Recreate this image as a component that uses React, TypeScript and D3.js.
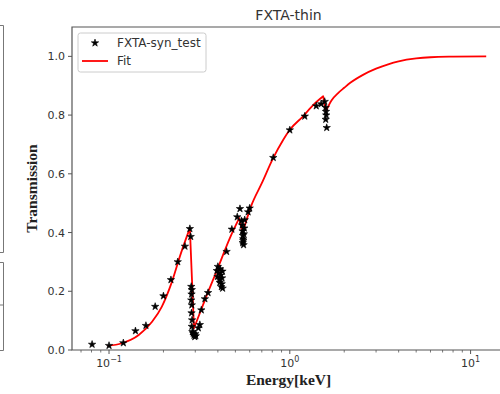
import React from "react";
import * as d3 from "d3";

const dataE = [
  0.0806, 0.1, 0.12, 0.14, 0.16, 0.18, 0.2, 0.22, 0.24, 0.263, 0.28, 0.283,
  0.285, 0.287, 0.286, 0.285, 0.287, 0.286, 0.288, 0.287, 0.289, 0.292, 0.295, 0.298, 0.3, 0.302,
  0.312, 0.318, 0.324, 0.339, 0.353,
  0.395, 0.398, 0.4, 0.405, 0.408, 0.41, 0.412, 0.415, 0.418, 0.42, 0.422, 0.425, 0.424,
  0.447, 0.478, 0.512, 0.53,
  0.54, 0.545, 0.548, 0.55, 0.552, 0.549, 0.555, 0.553, 0.557, 0.56, 0.563, 0.588, 0.6,
  0.81, 1.0, 1.21, 1.4, 1.49, 1.56, 1.58, 1.585, 1.59, 1.58, 1.6,
];
const dataT = [
  0.019, 0.015, 0.024, 0.065, 0.083, 0.148, 0.184, 0.239, 0.3, 0.353, 0.413, 0.386,
  0.216, 0.205, 0.19, 0.17, 0.153, 0.126, 0.102, 0.08, 0.062, 0.057, 0.05, 0.045, 0.055, 0.048,
  0.075, 0.086, 0.136, 0.174, 0.195,
  0.27, 0.25, 0.284, 0.262, 0.24, 0.23, 0.276, 0.255, 0.215, 0.225, 0.245, 0.21, 0.268,
  0.335, 0.411, 0.453, 0.481,
  0.44, 0.425, 0.405, 0.39, 0.378, 0.365, 0.358, 0.372, 0.395, 0.415, 0.443, 0.47, 0.483,
  0.655, 0.749, 0.796, 0.831, 0.838, 0.846, 0.826, 0.812, 0.8, 0.785, 0.757,
];

// fit curve, split into smooth pieces between absorption edges
const fitE1 = [0.098, 0.118, 0.146, 0.173, 0.196, 0.223, 0.25, 0.28];
const fitT1 = [0.014, 0.023, 0.051, 0.096, 0.148, 0.233, 0.33, 0.415];
const fitE2 = [0.295, 0.339, 0.4, 0.466, 0.525];
const fitT2 = [0.074, 0.17, 0.279, 0.381, 0.449];
const fitE3 = [0.548, 0.61, 0.7, 0.81, 0.92, 1.0, 1.18, 1.35, 1.53];
const fitT3 = [0.398, 0.489, 0.568, 0.654, 0.716, 0.75, 0.795, 0.835, 0.864];
const fitE4 = [1.58, 1.7, 1.85, 2.0, 2.15, 2.54, 3.0, 3.5, 4.0, 5.0, 6.0, 8.0, 12.2];
const fitT4 = [0.812, 0.85, 0.875, 0.893, 0.909, 0.937, 0.958, 0.973, 0.983, 0.993, 0.997, 0.999, 1.0];

const yTicks = [0, 0.2, 0.4, 0.6, 0.8, 1.0];
const xMajor = [0.1, 1, 10];
const xMajorExp = ["\u22121", "0", "1"];
const xMinor = [0.07, 0.08, 0.09, 0.2, 0.3, 0.4, 0.5, 0.6, 0.7, 0.8, 0.9, 2, 3, 4, 5, 6, 7, 8, 9];

const title = "FXTA-thin";
const xLabel = "Energy[keV]";
const yLabel = "Transmission";
const seriesNames = ["FXTA-syn_test", "Fit"];

export default function App() {
  const L = 72, R = 505, T = 27, B = 350;
  const x = d3.scaleLog().domain([0.0624, 15.5]).range([L, R]);
  const y = d3.scaleLinear().domain([0, 1.1]).range([B, T]);

  const pieces: [number[], number[]][] = [
    [fitE1, fitT1],
    [fitE2, fitT2],
    [fitE3, fitT3],
    [fitE4, fitT4],
  ];
  const smooth = d3
    .line<[number, number]>()
    .x((d) => x(d[0]))
    .y((d) => y(d[1]))
    .curve(d3.curveMonotoneX);
  let fitPath = "";
  pieces.forEach(([es, ts], k) => {
    const pts = es.map((e, i) => [e, ts[i]] as [number, number]);
    let seg = smooth(pts) || "";
    if (k > 0) seg = "L" + seg.slice(1);
    fitPath += seg;
  });

  const star = d3.symbol().type(d3.symbolStar).size(17)();
  const sans = "DejaVu Sans";
  const serif = "Liberation Serif";
  const axisCol = "#555";
  const textCol = "#333";

  return (
    <svg
      width={500}
      height={394}
      style={{ position: "absolute", left: 0, top: 0, background: "#fff" }}
    >
      <rect x={0} y={0} width={500} height={394} fill="#fff" />
      {/* remnants of neighbouring panel */}
      <path d="M0,25.5 H3.5 V252.5 H0" fill="none" stroke="#777" strokeWidth={1} />
      <path d="M0,262.5 H3.5 V350.5 H0" fill="none" stroke="#777" strokeWidth={1} />
      <line x1={0} x2={3.5} y1={305} y2={305} stroke="#777" strokeWidth={1} />

      <defs>
        <clipPath id="plotclip">
          <rect x={L} y={T} width={R - L} height={B - T} />
        </clipPath>
      </defs>

      {/* fit line */}
      <path
        d={fitPath}
        fill="none"
        stroke="#ff0000"
        strokeWidth={1.8}
        strokeLinejoin="round"
        clipPath="url(#plotclip)"
      />
      {/* data stars */}
      {dataE.map((e, i) => (
        <path
          key={i}
          d={star || ""}
          transform={`translate(${x(e)},${y(dataT[i])})`}
          fill="#000"
          stroke="#000"
          strokeWidth={0.6}
        />
      ))}

      {/* frame */}
      <path
        d={`M${R},${T} H${L} V${B} H${R}`}
        fill="none"
        stroke={axisCol}
        strokeWidth={1.2}
      />

      {/* y ticks */}
      {yTicks.map((t) => (
        <g key={t}>
          <line x1={L - 4} x2={L} y1={y(t)} y2={y(t)} stroke={axisCol} strokeWidth={1} />
          <text
            x={L - 7}
            y={y(t)}
            dy="0.36em"
            textAnchor="end"
            fontFamily={sans}
            fontSize={11}
            fill={textCol}
          >
            {d3.format(".1f")(t)}
          </text>
        </g>
      ))}

      {/* x ticks */}
      {xMinor.map((t) => (
        <line key={t} x1={x(t)} x2={x(t)} y1={B} y2={B + 2.5} stroke={axisCol} strokeWidth={0.8} />
      ))}
      {xMajor.map((t, i) => (
        <g key={t}>
          <line x1={x(t)} x2={x(t)} y1={B} y2={B + 4} stroke={axisCol} strokeWidth={1} />
          <text
            x={x(t)}
            y={B + 17}
            textAnchor="middle"
            fontFamily={sans}
            fontSize={11}
            fill={textCol}
          >
            10
            <tspan fontSize={8} dy={-5}>
              {xMajorExp[i]}
            </tspan>
          </text>
        </g>
      ))}

      {/* title */}
      <text
        x={(L + R) / 2}
        y={20}
        textAnchor="middle"
        fontFamily={sans}
        fontSize={14}
        fill={textCol}
      >
        {title}
      </text>

      {/* axis labels */}
      <text
        x={(L + R) / 2}
        y={385}
        textAnchor="middle"
        fontFamily={serif}
        fontWeight="bold"
        fontSize={15.5}
        fill="#222"
      >
        {xLabel}
      </text>
      <text
        transform={`translate(37,${(T + B) / 2}) rotate(-90)`}
        textAnchor="middle"
        fontFamily={serif}
        fontWeight="bold"
        fontSize={15.5}
        fill="#222"
      >
        {yLabel}
      </text>

      {/* legend */}
      <rect
        x={78}
        y={33}
        width={128}
        height={39}
        rx={2.5}
        fill="#fff"
        fillOpacity={0.8}
        stroke="#ccc"
        strokeWidth={1}
      />
      <path d={star || ""} transform="translate(95,43)" fill="#000" stroke="#000" strokeWidth={0.6} />
      <text x={117} y={47} fontFamily={sans} fontSize={12} fill={textCol}>
        {seriesNames[0]}
      </text>
      <line x1={82} x2={108} y1={61} y2={61} stroke="#ff0000" strokeWidth={1.8} />
      <text x={117} y={65} fontFamily={sans} fontSize={12} fill={textCol}>
        {seriesNames[1]}
      </text>
    </svg>
  );
}
